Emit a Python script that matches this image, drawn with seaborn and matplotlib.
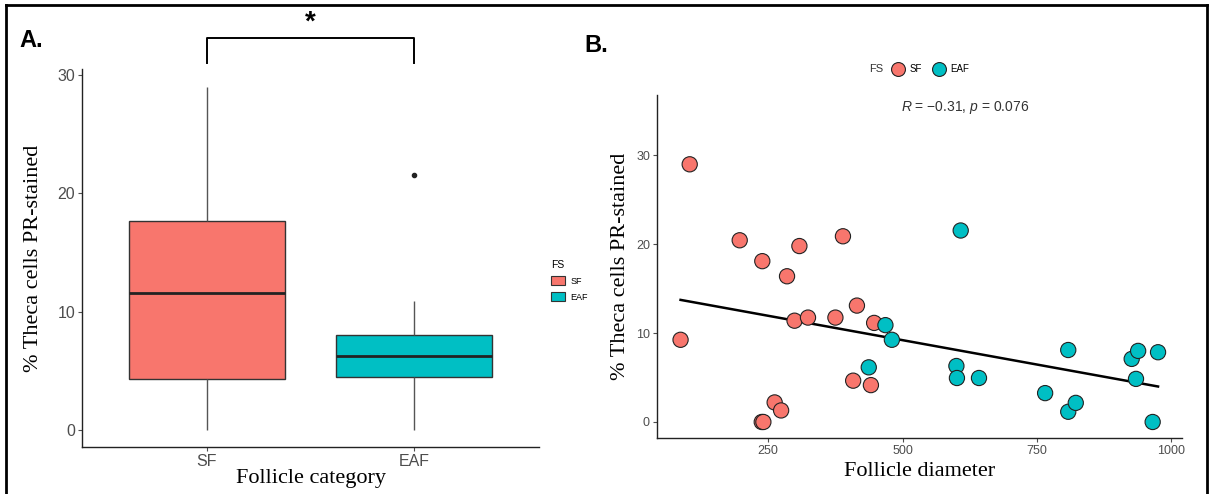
import matplotlib
matplotlib.use("Agg")
import matplotlib.pyplot as plt
import matplotlib.lines as mlines
import matplotlib.patches as mpatches
import numpy as np
import pandas as pd
import seaborn as sns

# --- data ---
SF_DIAMETER = [104, 87, 197, 239, 285, 308, 389, 299, 324, 375, 415, 447, 408, 441, 262, 274, 238, 241]
SF_STAINED = [29.0, 9.25, 20.45, 18.1, 16.4, 19.8, 20.9, 11.4, 11.75, 11.75, 13.1, 11.15, 4.65, 4.15, 2.2, 1.3, 0.0, 0.0]
EAF_DIAMETER = [608, 468, 480, 437, 600, 601, 642, 765, 808, 808, 822, 926, 938, 934, 975, 965]
EAF_STAINED = [21.55, 10.9, 9.25, 6.15, 6.3, 4.95, 4.95, 3.25, 8.1, 1.15, 2.15, 7.1, 8.0, 4.85, 7.85, 0.0]

CATEGORIES = ["SF", "EAF"]
PALETTE = {"SF": "#F8766D", "EAF": "#00BFC4"}
STAT_TEXT = r"$\mathit{R}$ = −0.31, $\mathit{p}$ = 0.076"

df = pd.DataFrame({
    "FS": ["SF"] * len(SF_STAINED) + ["EAF"] * len(EAF_STAINED),
    "diameter": SF_DIAMETER + EAF_DIAMETER,
    "stained": SF_STAINED + EAF_STAINED,
})

plt.rcParams.update({
    "font.family": ["Liberation Sans", "DejaVu Sans"],
    "mathtext.fontset": "custom",
    "mathtext.it": "Liberation Sans:italic",
    "mathtext.rm": "Liberation Sans",
})

TICK_GREY = "#4D4D4D"
LABEL_FONT = {"family": "Liberation Serif", "size": 16}

fig = plt.figure(figsize=(12.12, 4.94), dpi=100)


def style_axes(ax, tick_size):
    sns.despine(ax=ax)
    for side in ("left", "bottom"):
        ax.spines[side].set_linewidth(1.0)
        ax.spines[side].set_color("#222222")
    ax.tick_params(axis="both", colors=TICK_GREY, labelsize=tick_size, length=3, width=0.8, pad=2)


# Panel A: boxplot ------------------------------
ax_a = fig.add_axes([0.0677, 0.0951, 0.377, 0.765])
sns.boxplot(data=df, x="FS", y="stained", hue="FS", order=CATEGORIES, hue_order=CATEGORIES,
            palette=PALETTE, saturation=1, width=0.75, linewidth=1.0, linecolor="#333333",
            showcaps=False, legend=False, ax=ax_a,
            whiskerprops={"color": "#555555", "linewidth": 1.0},
            medianprops={"color": "#222222", "linewidth": 2.0},
            flierprops={"marker": "o", "markersize": 3, "markerfacecolor": "#222222",
                        "markeredgecolor": "#222222"})
ax_a.set_xlim(-0.6, 1.6)
ax_a.set_ylim(-1.45, 30.48)
ax_a.set_yticks([0, 10, 20, 30])
style_axes(ax_a, 11.5)
ax_a.set_xlabel("Follicle category", fontdict=LABEL_FONT, labelpad=0)
ax_a.set_ylabel("% Theca cells PR-stained", fontdict=LABEL_FONT, labelpad=10)

# significance bracket
ax_a.plot([0, 0, 1, 1], [31.0, 33.1, 33.1, 31.0], color="black", lw=1.4, clip_on=False)
ax_a.text(0.5, 33.3, "*", ha="center", va="bottom", fontsize=20, fontweight="bold", clip_on=False)

box_handles = [mpatches.Patch(facecolor=PALETTE[c], edgecolor="#333333", linewidth=0.8, label=c)
               for c in CATEGORIES]
fig.legend(handles=box_handles, title="FS", loc="upper left", bbox_to_anchor=(0.451, 0.483),
           frameon=False, fontsize=6.5, title_fontsize=7.5, handlelength=1.5, handleheight=1.2,
           handletextpad=0.6, labelspacing=0.7, borderpad=0, alignment="left")

# Panel B: scatter + regression ------------------------------
ax_b = fig.add_axes([0.542, 0.1134, 0.433, 0.6943])
sns.scatterplot(data=df, x="diameter", y="stained", hue="FS", hue_order=CATEGORIES,
                palette=PALETTE, s=120, edgecolor="#222222", linewidth=0.8,
                legend=False, ax=ax_b, zorder=3)
sns.regplot(data=df, x="diameter", y="stained", scatter=False, ci=None, ax=ax_b,
            line_kws={"color": "black", "linewidth": 1.8, "zorder": 2})
ax_b.set_xlim(43, 1019)
ax_b.set_ylim(-1.8, 36.8)
ax_b.set_xticks([250, 500, 750, 1000])
ax_b.set_yticks([0, 10, 20, 30])
style_axes(ax_b, 9)
ax_b.set_xlabel("Follicle diameter", fontdict=LABEL_FONT, labelpad=4)
ax_b.set_ylabel("% Theca cells PR-stained", fontdict=LABEL_FONT, labelpad=4)
ax_b.text(0.587, 0.965, STAT_TEXT, transform=ax_b.transAxes, ha="center", va="center",
          fontsize=10, color="#333333")

dot_handles = [mlines.Line2D([], [], marker="o", linestyle="none", markersize=10,
                             markerfacecolor=PALETTE[c], markeredgecolor="#222222",
                             markeredgewidth=0.8, label=c) for c in CATEGORIES]
fig.text(0.7175, 0.860, "FS", fontsize=8, color="#333333", va="center")
fig.legend(handles=dot_handles, loc="center left", bbox_to_anchor=(0.733, 0.860), ncol=2,
           frameon=False, fontsize=7, handlelength=1.0, handletextpad=0.7,
           columnspacing=1.2, borderpad=0)

# panel letters and frame
fig.text(0.016, 0.905, "A.", fontsize=17, fontweight="bold")
fig.text(0.482, 0.895, "B.", fontsize=17, fontweight="bold")
frame = [((0.005, 0.005), (0, 0.99)), ((0.005, 0.996), (0.99, 0.99)), ((0.996, 0.996), (0, 0.99))]
for xs, ys in frame:
    fig.add_artist(mlines.Line2D(xs, ys, color="black", linewidth=2.0, transform=fig.transFigure))

fig.savefig("out.png", dpi=100)
